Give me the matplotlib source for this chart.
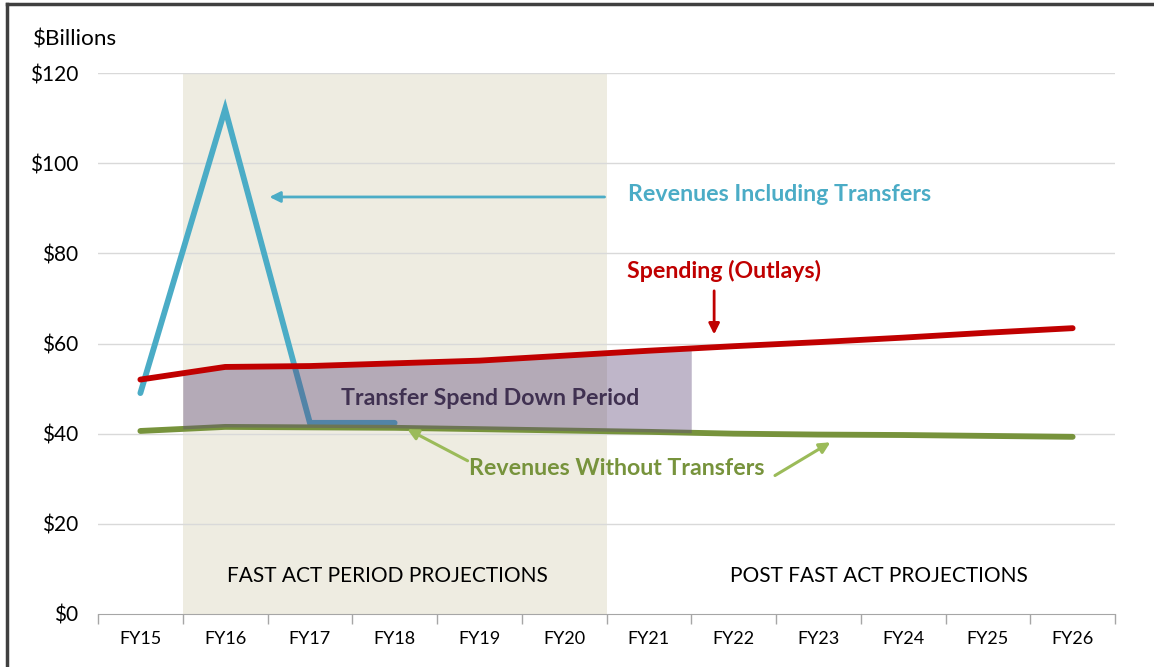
import matplotlib.pyplot as plt
from matplotlib.lines import Line2D
import numpy as np

plt.rcParams['font.family'] = ['Lato', 'DejaVu Sans']

years = ["FY15", "FY16", "FY17", "FY18", "FY19", "FY20",
         "FY21", "FY22", "FY23", "FY24", "FY25", "FY26"]
spending = [52.0, 54.8, 55.0, 55.6, 56.2, 57.3, 58.4, 59.4, 60.3, 61.3, 62.4, 63.4]
rev_without = [40.6, 41.5, 41.4, 41.3, 41.0, 40.7, 40.4, 40.0, 39.8, 39.7, 39.5, 39.3]
rev_including = [49.0, 112.0, 42.4, 42.4]
y_ticks = [0, 20, 40, 60, 80, 100, 120]

BLUE = "#4BACC6"
RED = "#C00000"
GREEN = "#77933C"
GREEN_LT = "#9BBB59"
BEIGE = "#EEECE1"
PURPLE_TXT = "#403151"

fig = plt.figure(figsize=(11.54, 6.67), dpi=100)
ax = fig.add_axes([98 / 1154, 1 - 614 / 667, (1115 - 98) / 1154, (614 - 73) / 667])

x = np.arange(len(years))

# background period shading
ax.axvspan(0.5, 5.5, color=BEIGE, zorder=0, lw=0)

# grid
for v in y_ticks[1:]:
    ax.axhline(v, color="#D9D9D9", lw=1, zorder=1)

ax.plot(x[:len(rev_including)], rev_including, color=BLUE, lw=4.2,
        solid_capstyle="round", solid_joinstyle="miter", zorder=3)
ax.plot(x, rev_without, color=GREEN, lw=4.2, solid_capstyle="round", zorder=3)

# transfer spend down band
xs = np.array([0.5, 1, 2, 3, 4, 5, 6, 6.5])
top = np.interp(xs, x, spending)
bot = np.interp(xs, x, rev_without)
ax.fill_between(xs, bot, top, color="#5F497A", alpha=0.4, lw=0, zorder=4)

ax.plot(x, spending, color=RED, lw=4.2, solid_capstyle="round", zorder=5)

# annotations
FS = 16.7
ax.text(5.75, 93.0, "Revenues Including Transfers", color=BLUE, fontsize=FS,
        fontweight="bold", va="center", ha="left", zorder=6)
ax.annotate("", xy=(1.49, 92.5), xytext=(5.51, 92.5),
            arrowprops=dict(arrowstyle="-|>", color=BLUE, lw=2, mutation_scale=16), zorder=6)

ax.text(6.89, 76.0, "Spending (Outlays)", color=RED, fontsize=FS,
        fontweight="bold", va="center", ha="center", zorder=6)
ax.annotate("", xy=(6.77, 61.4), xytext=(6.77, 72.3),
            arrowprops=dict(arrowstyle="-|>", color=RED, lw=2, mutation_scale=16), zorder=6)

ax.text(5.62, 32.2, "Revenues Without Transfers", color=GREEN, fontsize=FS,
        fontweight="bold", va="center", ha="center", zorder=6)
ax.annotate("", xy=(3.12, 41.3), xytext=(3.89, 33.7),
            arrowprops=dict(arrowstyle="-|>", color=GREEN_LT, lw=2.2, mutation_scale=16), zorder=6)
ax.annotate("", xy=(8.17, 38.4), xytext=(7.46, 30.4),
            arrowprops=dict(arrowstyle="-|>", color=GREEN_LT, lw=2.2, mutation_scale=16), zorder=6)

ax.text(4.13, 47.7, "Transfer Spend Down Period", color=PURPLE_TXT, fontsize=FS,
        fontweight="bold", va="center", ha="center", zorder=6)

ax.text(2.92, 8.4, "FAST ACT PERIOD PROJECTIONS", color="black", fontsize=15,
        va="center", ha="center", zorder=6)
ax.text(8.72, 8.4, "POST FAST ACT PROJECTIONS", color="black", fontsize=15,
        va="center", ha="center", zorder=6)

# axes styling
ax.set_xlim(-0.5, len(years) - 0.5)
ax.set_ylim(0, 120)
ax.set_yticks(y_ticks)
ax.set_yticklabels([f"${v}" for v in y_ticks], fontsize=15)
ax.tick_params(axis="y", length=0, pad=14)
ax.set_xticks(x)
ax.set_xticklabels(years, fontsize=13)
ax.set_xticks(np.arange(-0.5, len(years), 1), minor=True)
ax.tick_params(axis="x", which="major", length=0, pad=12)
ax.tick_params(axis="x", which="minor", length=7, color="#A6A6A6", width=1)
for s in ["top", "right", "left"]:
    ax.spines[s].set_visible(False)
ax.spines["bottom"].set_color("#A6A6A6")
ax.spines["bottom"].set_zorder(7)

fig.text(33 / 1154, 1 - 40 / 667, "$Billions", fontsize=16.2, va="center", ha="left")

# screenshot border (top and left)
fig.add_artist(Line2D([7 / 1154, 1], [1 - 4 / 667, 1 - 4 / 667], color="#404040", lw=2.5,
                      transform=fig.transFigure))
fig.add_artist(Line2D([7 / 1154, 7 / 1154], [0, 1 - 4 / 667], color="#404040", lw=2.5,
                      transform=fig.transFigure))

fig.savefig("out.png", dpi=100)
